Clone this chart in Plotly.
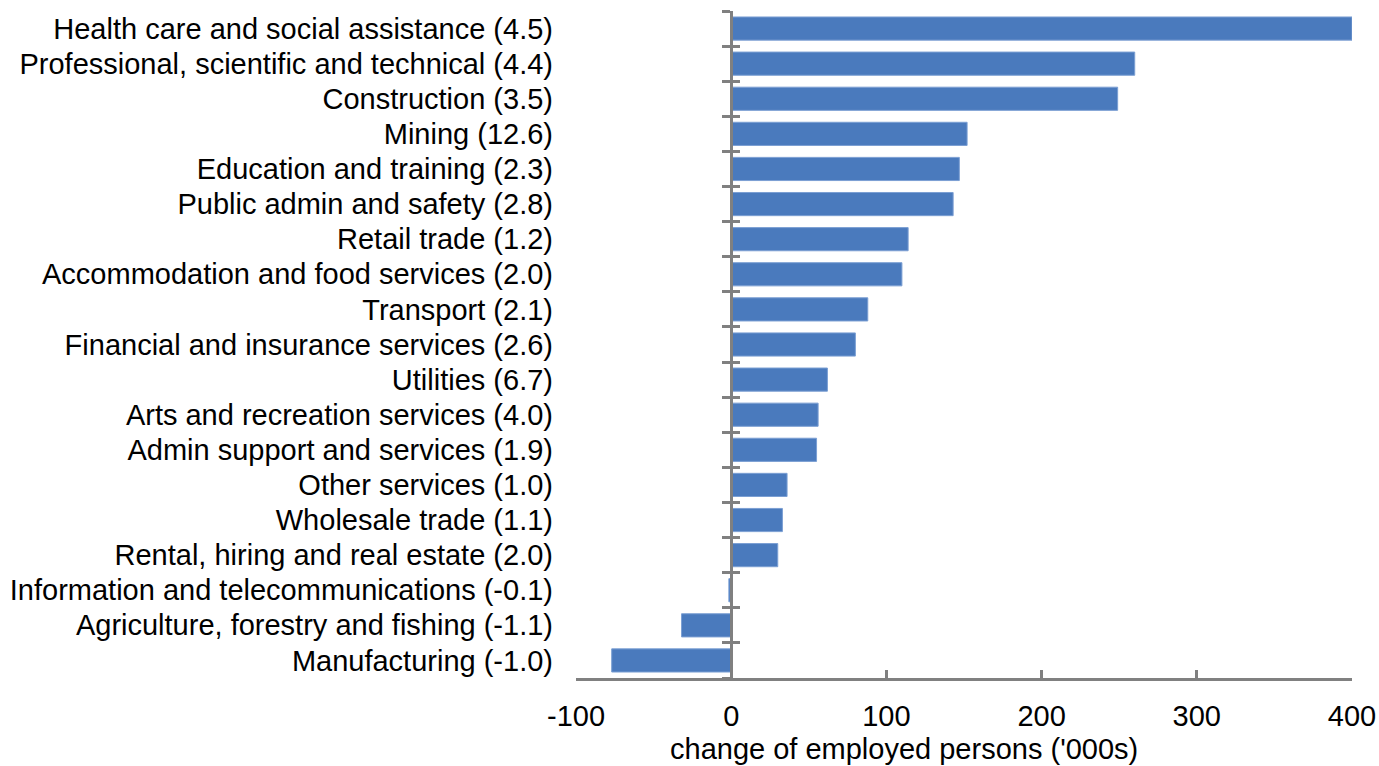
import plotly.graph_objects as go

# Industries, top to bottom, with employment growth (%) in brackets
industries = [
    "Health care and social assistance (4.5)",
    "Professional, scientific and technical (4.4)",
    "Construction (3.5)",
    "Mining (12.6)",
    "Education and training (2.3)",
    "Public admin and safety (2.8)",
    "Retail trade (1.2)",
    "Accommodation and food services (2.0)",
    "Transport (2.1)",
    "Financial and insurance services (2.6)",
    "Utilities (6.7)",
    "Arts and recreation services (4.0)",
    "Admin support and services (1.9)",
    "Other services (1.0)",
    "Wholesale trade (1.1)",
    "Rental, hiring and real estate (2.0)",
    "Information and telecommunications (-0.1)",
    "Agriculture, forestry and fishing (-1.1)",
    "Manufacturing (-1.0)",
]

# Change of employed persons ('000s)
change_000s = [400, 260, 249, 152, 147, 143, 114, 110, 88, 80,
               62, 56, 55, 36, 33, 30, -1.5, -32, -77]

x_ticks = [-100, 0, 100, 200, 300, 400]
x_tick_text = ["-100", "0", "100", "200", "300", "400"]
x_title = "change of employed persons ('000s)"

W, H = 1379, 766
AXIS_GREY = "#808080"
FONT = "Liberation Sans, Arial, sans-serif"
FS = 29

n = len(industries)
boundaries = [i - 0.5 for i in range(n + 1)]
y_range = [n - 0.5, -0.5]

fig = go.Figure()
fig.add_trace(go.Bar(
    x=change_000s,
    y=industries,
    orientation="h",
    marker=dict(color="#4a7abd", line=dict(color="#7b9fd3", width=1)),
    width=0.66,
    showlegend=False,
    hoverinfo="x+y",
))

# Invisible helper traces so the overlay axes take part in the layout
for ax in ("y2", "y3"):
    fig.add_trace(go.Scatter(x=[0], y=[0], yaxis=ax, mode="markers",
                             marker=dict(opacity=0), showlegend=False,
                             hoverinfo="skip"))

x0_frac = 100 / 500  # position of x = 0 inside the x range [-100, 400]

fig.update_layout(
    width=W, height=H,
    margin=dict(l=576, r=27, t=11, b=88, autoexpand=False),
    plot_bgcolor="white", paper_bgcolor="white",
    font=dict(family=FONT, size=FS, color="black"),
    bargap=0.34,
    xaxis=dict(
        range=[-100, 400],
        tickvals=x_ticks, ticktext=x_tick_text,
        ticks="inside", ticklen=8, tickwidth=2.5, tickcolor=AXIS_GREY,
        showline=True, linecolor=AXIS_GREY, linewidth=2.5,
        showgrid=False, zeroline=False,
        tickfont=dict(size=FS),
        ticklabelstandoff=10,
        automargin=False,
    ),
    yaxis=dict(
        range=y_range,
        type="category",
        showline=False, showgrid=False, zeroline=False,
        ticks="", tickfont=dict(size=FS),
        ticklabelstandoff=22,
        automargin=False,
    ),
    # Vertical axis line at x = 0 with ticks crossing it at category boundaries
    yaxis2=dict(
        overlaying="y", anchor="free", position=x0_frac,
        range=y_range, tickvals=boundaries, showticklabels=False,
        ticks="outside", ticklen=8, tickwidth=2.5, tickcolor=AXIS_GREY,
        showline=True, linecolor=AXIS_GREY, linewidth=2.5,
        showgrid=False, zeroline=False, automargin=False,
    ),
    yaxis3=dict(
        overlaying="y", anchor="free", position=x0_frac,
        range=y_range, tickvals=boundaries, showticklabels=False,
        ticks="inside", ticklen=8, tickwidth=2.5, tickcolor=AXIS_GREY,
        showline=False, showgrid=False, zeroline=False, automargin=False,
    ),
    annotations=[dict(
        text=x_title, xref="paper", yref="paper",
        x=(904 - 576) / 776, y=-(749 - 678) / 667,
        xanchor="center", yanchor="middle", showarrow=False,
        font=dict(size=FS),
    )],
)

fig.write_html("out.html")
